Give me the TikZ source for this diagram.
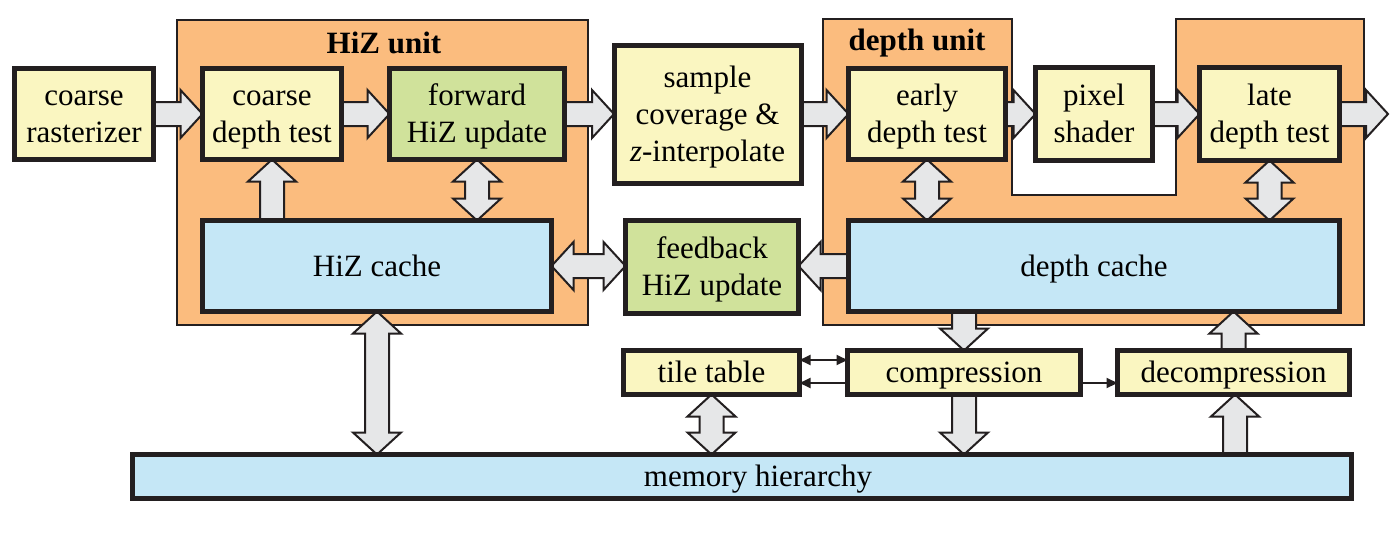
\documentclass[tikz,border=0pt]{standalone}
\usepackage{fontspec}
\setmainfont{Liberation Serif}
\usetikzlibrary{calc,arrows.meta}
\definecolor{ybox}{HTML}{FAF6C1}
\definecolor{gbox}{HTML}{D0E29B}
\definecolor{bbox}{HTML}{C5E7F6}
\definecolor{orng}{HTML}{FBBC7E}
\definecolor{agray}{HTML}{E6E7E8}
\definecolor{bordc}{HTML}{231F20}
\pgfdeclarelayer{bg}
\pgfdeclarelayer{arr}
\pgfsetlayers{bg,arr,main}
\newcommand\bt[1]{\raisebox{-3pt}[\height][\depth]{\begin{tabular}{@{}c@{}}#1\end{tabular}}}
\tikzset{
  box/.style={draw=bordc, line width=5pt, inner sep=0pt, outer sep=0pt,
    font=\fontsize{31}{37}\selectfont},
  ybx/.style={box, fill=ybox},
  gbx/.style={box, fill=gbox},
  bbx/.style={box, fill=bbox},
  unitshape/.style={fill=orng, draw=bordc, line width=1.5pt},
  unittitle/.style={font=\fontsize{31}{37}\selectfont\bfseries, inner sep=0pt},
  blk/.style={fill=agray, draw=bordc, line width=2pt, line join=miter},
  thinarr/.style={draw=bordc, line width=2pt},
}
% horizontal single block arrow from #1 to #2 (y of #1)
\newcommand\harr[2]{\path[blk] let \p1=#1, \p2=#2, \p3=($(\p2)!22pt!(\p1)$) in
  (\x1,\y1+12pt) -- (\x3,\y1+12pt) -- (\x3,\y1+24pt) -- (\x2,\y1) -- (\x3,\y1-24pt) -- (\x3,\y1-12pt) -- (\x1,\y1-12pt) -- cycle;}
% horizontal double block arrow
\newcommand\hdarr[2]{\path[blk] let \p1=#1, \p2=#2, \p3=($(\p2)!22pt!(\p1)$), \p4=($(\p1)!22pt!(\p2)$) in
  (\x1,\y1) -- (\x4,\y1+24pt) -- (\x4,\y1+12pt) -- (\x3,\y1+12pt) -- (\x3,\y1+24pt) -- (\x2,\y1) -- (\x3,\y1-24pt) -- (\x3,\y1-12pt) -- (\x4,\y1-12pt) -- (\x4,\y1-24pt) -- cycle;}
% vertical single block arrow from #1 to #2 (x of #1)
\newcommand\varr[2]{\path[blk] let \p1=#1, \p2=#2, \p3=($(\p2)!22pt!(\p1)$) in
  (\x1-12pt,\y1) -- (\x1-12pt,\y3) -- (\x1-24pt,\y3) -- (\x1,\y2) -- (\x1+24pt,\y3) -- (\x1+12pt,\y3) -- (\x1+12pt,\y1) -- cycle;}
% vertical double block arrow
\newcommand\vdarr[2]{\path[blk] let \p1=#1, \p2=#2, \p3=($(\p2)!22pt!(\p1)$), \p4=($(\p1)!22pt!(\p2)$) in
  (\x1,\y1) -- (\x1+24pt,\y4) -- (\x1+12pt,\y4) -- (\x1+12pt,\y3) -- (\x1+24pt,\y3) -- (\x1,\y2) -- (\x1-24pt,\y3) -- (\x1-12pt,\y3) -- (\x1-12pt,\y4) -- (\x1-24pt,\y4) -- cycle;}
\begin{document}
\begin{tikzpicture}[x=1pt,y=-1pt]
\useasboundingbox (0,0) rectangle (1396,538);

% boxes
\node[ybx, minimum width=139pt, minimum height=91pt] (cr) at (84,114) {\bt{coarse\\rasterizer}};
\node[ybx, minimum width=139pt, minimum height=91pt] (cdt) at (272,114) {\bt{coarse\\depth test}};
\node[gbx, minimum width=175pt, minimum height=91pt] (fwd) at (477,114) {\bt{forward\\HiZ update}};
\node[bbx, minimum width=349pt, minimum height=91pt] (hizc) at (377,266) {\bt{HiZ cache}};
\node[ybx, minimum width=187pt, minimum height=138pt] (samp) at (707.5,114) {\bt{sample\\coverage \&\\\textit{z}-interpolate}};
\node[gbx, minimum width=173pt, minimum height=93pt] (fb) at (712,266.5) {\bt{feedback\\HiZ update}};
\node[ybx, minimum width=157pt, minimum height=91pt] (edt) at (927,114) {\bt{early\\depth test}};
\node[ybx, minimum width=117pt, minimum height=93pt] (ps) at (1094,114) {\bt{pixel\\shader}};
\node[ybx, minimum width=140pt, minimum height=93pt] (ldt) at (1269.5,114) {\bt{late\\depth test}};
\node[bbx, minimum width=491pt, minimum height=91pt] (dc) at (1094,266) {\bt{depth cache}};
\node[ybx, minimum width=176pt, minimum height=44pt] (tt) at (711.5,372.5) {\bt{tile table}};
\node[ybx, minimum width=233pt, minimum height=44pt] (comp) at (964,372.5) {\bt{compression}};
\node[ybx, minimum width=232pt, minimum height=44pt] (decomp) at (1233.5,372.5) {\bt{decompression}};
\node[bbx, minimum width=1219pt, minimum height=44pt] (mem) at (742,476.5) {\bt{\hspace*{32pt}memory hierarchy}};
\coordinate (out) at (1388,114);

% units
\begin{pgfonlayer}{bg}
\draw[unitshape] (177,20) rectangle (588,325);
\draw[unitshape] (823,19) -- (1012,19) -- (1012,195) -- (1176,195) -- (1176,19)
  -- (1364,19) -- (1364,325) -- (823,325) -- cycle;
\end{pgfonlayer}
\node[unittitle] (hiztitle) at (384,43) {HiZ unit};
\node[unittitle] (deptitle) at (917,43) {depth unit};

% block arrows
\begin{pgfonlayer}{arr}
\harr{(cr.east)}{(cdt.west)}
\harr{(cdt.east)}{(fwd.west)}
\harr{(fwd.east)}{(samp.west |- fwd.east)}
\harr{(samp.east |- edt.west)}{(edt.west)}
\harr{(edt.east)}{(ps.west)}
\harr{(ps.east)}{(ldt.west)}
\harr{(ldt.east)}{(out)}
\harr{(dc.west)}{(fb.east |- dc.west)}
\hdarr{(hizc.east)}{(fb.west |- hizc.east)}
\varr{(cdt.south |- hizc.north)}{(cdt.south)}
\vdarr{(fwd.south)}{(fwd.south |- hizc.north)}
\vdarr{(edt.south)}{(edt.south |- dc.north)}
\vdarr{(ldt.south)}{(ldt.south |- dc.north)}
\vdarr{(hizc.south)}{(hizc.south |- mem.north)}
\varr{(comp.north |- dc.south)}{(comp.north)}
\varr{(decomp.north)}{(decomp.north |- dc.south)}
\vdarr{(tt.south)}{(tt.south |- mem.north)}
\varr{(comp.south)}{(comp.south |- mem.north)}
\varr{([xshift=1.5pt]decomp.south |- mem.north)}{([xshift=1.5pt]decomp.south)}
\end{pgfonlayer}

% thin arrows
\draw[thinarr, {Triangle[length=11pt,width=10pt]}-{Triangle[length=11pt,width=10pt]}]
  ([yshift=12.5pt]tt.east) -- ([yshift=12.5pt]tt.east -| comp.west);
\draw[thinarr, -{Triangle[length=11pt,width=10pt]}]
  ([yshift=-10.5pt]comp.west) -- ([yshift=-10.5pt]comp.west -| tt.east);
\draw[thinarr, -{Triangle[length=11pt,width=10pt]}]
  ([yshift=-10.5pt]comp.east) -- ([yshift=-10.5pt]comp.east -| decomp.west);
\end{tikzpicture}
\end{document}
